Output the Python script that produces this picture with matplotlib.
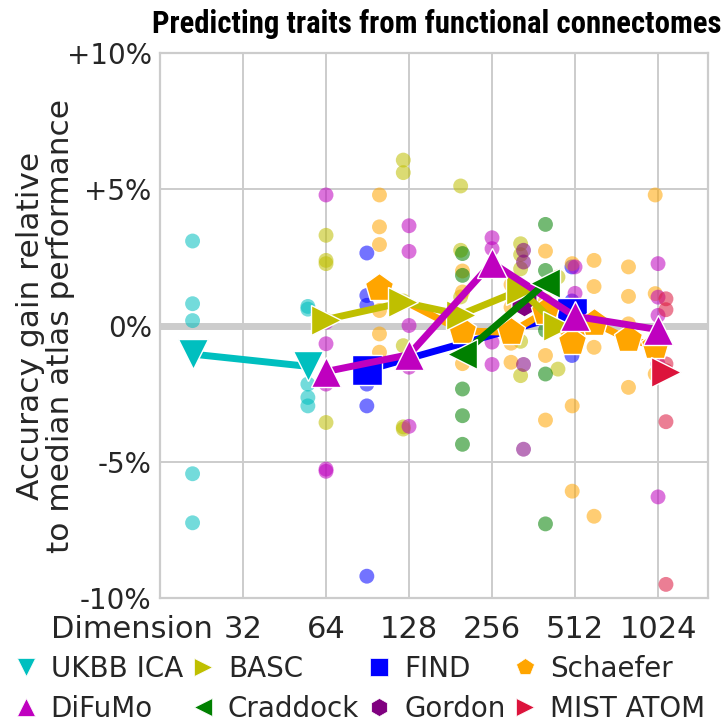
import matplotlib
matplotlib.use("Agg")
import matplotlib.pyplot as plt
from matplotlib.transforms import ScaledTranslation
from matplotlib.lines import Line2D
from matplotlib import font_manager as fm

# ---------------- data ----------------
atlas_names = ["UKBB ICA", "BASC", "FIND", "Schaefer", "DiFuMo", "Craddock", "Gordon", "MIST ATOM"]
atlas_colors = ["#00bfbf", "#bfbf00", "#0000ff", "#ffa500", "#bf00bf", "#008000", "#800080", "#dc143c"]
atlas_markers = ["v", ">", "s", "p", "^", "<", "h", ">"]

ukbb_dims = [21, 55]
ukbb_mean = [-1.05, -1.5]
ukbb_pts = [[3.1, 0.8, 0.18, -5.44, -7.24],
            [0.7, 0.6, -2.15, -2.64, -2.95]]

basc_dims = [64, 122, 197, 325, 444]
basc_mean = [0.22, 0.85, 0.4, 1.3, 0.0]
basc_pts = [[3.31, 2.39, 2.27, 0.2, -3.56],
            [6.07, 5.61, 0.9, -0.74, -3.72, -3.8],
            [5.12, 2.76, 1.05, -0.3],
            [3.0, 2.6, 2.08, -0.58, -1.84],
            [1.78, 0.3, -1.6]]

find_dims = [90, 499]
find_mean = [-1.64, 0.47]
find_pts = [[2.66, 1.1, 0.74, -2.15, -2.95, -9.2],
            [2.15, 0.9, -1.1]]

schaefer_dims = [100, 200, 300, 400, 500, 600, 800, 1000]
schaefer_mean = [1.36, -0.2, -0.25, 0.5, -0.6, 0.1, -0.5, -0.75]
schaefer_pts = [[4.79, 3.62, 2.97, 0.55, -0.31, -0.98],
                [2.0, 1.23, -0.3, -1.4],
                [1.5, 0.67, -0.65, -1.35],
                [2.73, 0.9, -1.1, -3.47],
                [2.27, 0.0, -2.95, -6.08],
                [2.39, 1.43, -0.8, -7.0],
                [2.15, 1.07, 0.06, -2.27],
                [4.79, 1.17, -1.78]]

difumo_dims = [64, 128, 256, 512, 1024]
difumo_mean = [-1.69, -1.07, 2.3, 0.34, -0.15]
difumo_pts = [[4.79, 0.12, -0.67, -2.15, -5.27, -5.35],
              [3.66, 2.72, 0.0, -1.53, -3.7],
              [3.22, 2.82, -0.61, -1.43],
              [2.15, 1.18, 0.3],
              [2.27, 1.04, 0.37, -1.41, -6.29]]

craddock_dims = [200, 400]
craddock_mean = [-1.05, 1.55]
craddock_pts = [[2.64, 1.84, -2.33, -3.31, -4.36],
                [3.71, 2.02, -0.18, -1.78, -7.28]]

gordon_dims = [333]
gordon_mean = [0.86]
gordon_pts = [[2.76, 2.33, -1.43, -4.54]]

mist_dims = [1094]
mist_mean = [-1.72]
mist_pts = [[0.98, 0.58, -1.41, -1.66, -3.53, -9.5]]

all_dims = [ukbb_dims, basc_dims, find_dims, schaefer_dims, difumo_dims, craddock_dims, gordon_dims, mist_dims]
all_means = [ukbb_mean, basc_mean, find_mean, schaefer_mean, difumo_mean, craddock_mean, gordon_mean, mist_mean]
all_pts = [ukbb_pts, basc_pts, find_pts, schaefer_pts, difumo_pts, craddock_pts, gordon_pts, mist_pts]
mean_zorder = [6, 7, 4, 5, 8, 9, 3, 10]

xtick_vals = [32, 64, 128, 256, 512, 1024]
xtick_labels = ["32", "64", "128", "256", "512", "1024"]
ytick_vals = [-10, -5, 0, 5, 10]
ytick_labels = ["-10%", "-5%", "0%", "+5%", "+10%"]
title_text = "Predicting traits from functional connectomes"

# ---------------- figure ----------------
plt.rcParams["font.family"] = ["DejaVu Sans"]
fig = plt.figure(figsize=(7.26, 7.26), dpi=100)
ax = fig.add_axes([0.2204, 0.1763, 0.7548, 0.7507])
txt_c = "#262626"
grid_c = "#cccccc"

ax.set_xscale("log", base=2)
ax.set_xlim(16, 1554)
ax.set_ylim(-10, 10)
ax.set_xticks(xtick_vals)
ax.set_xticklabels(xtick_labels)
ax.minorticks_off()
ax.set_yticks(ytick_vals)
ax.set_yticklabels(ytick_labels)
ax.tick_params(axis="both", length=0, colors=txt_c)
xpad = 12
ax.tick_params(axis="x", labelsize=22, pad=xpad)
ax.tick_params(axis="y", labelsize=20, pad=6)
ax.grid(True, color=grid_c, lw=1.4, zorder=0)
ax.set_axisbelow(True)
for sp in ax.spines.values():
    sp.set_color(grid_c)
    sp.set_linewidth(1.6)
ax.axhline(0, color=grid_c, lw=5, zorder=1)

for name, col, mk, dims, means, pts, z in zip(atlas_names, atlas_colors, atlas_markers,
                                               all_dims, all_means, all_pts, mean_zorder):
    for d, vals in zip(dims, pts):
        ax.scatter([d] * len(vals), vals, s=115, color=col, alpha=0.55,
                   edgecolors="none", zorder=2)
    ax.plot(dims, means, color=col, lw=5, marker=mk, ms=21,
            mec="white", mew=1.0, zorder=z, solid_capstyle="round")

ax.set_ylabel("Accuracy gain relative\nto median atlas performance", fontsize=22.5,
              color=txt_c, linespacing=1.05)
ax.yaxis.set_label_coords(-0.155, 0.5)

# "Dimension" word next to the tick labels
off = ScaledTranslation(0, -xpad / 72, fig.dpi_scale_trans)
ax.text(0.0967, 0, "Dimension", transform=ax.transAxes + off, ha="right", va="top",
        fontsize=22, color=txt_c)

# title in a narrow face if one is installed
names = {f.name for f in fm.fontManager.ttflist}
cands = ["Liberation Sans Narrow", "Roboto Condensed", "DejaVu Sans Condensed",
         "Open Sans Condensed", "Noto Sans Condensed", "Arial Narrow"]
tfam = next((c for c in cands if c in names), None)
if tfam is None:
    cond = [f.name for f in fm.fontManager.ttflist
            if str(f.stretch) in ("condensed", "semi-condensed", "extra-condensed")]
    tfam = cond[0] if cond else "DejaVu Sans"
title = fig.text(437 / 726, 1 - 33 / 726, title_text, ha="center", va="baseline",
                 family=tfam, fontweight="bold", fontsize=19, color="black")
fig.canvas.draw()
w = title.get_window_extent().width
title.set_fontsize(19 * 569.0 / w)

handles = [Line2D([], [], ls="none", marker=m, color=c, ms=13, mec="white", mew=0.5)
           for m, c in zip(atlas_markers, atlas_colors)]
order = [0, 4, 1, 5, 2, 6, 3, 7]
fig.legend([handles[i] for i in order], [atlas_names[i] for i in order],
           loc="upper left", bbox_to_anchor=(0.016, 0.0975), ncol=4, frameon=False,
           fontsize=20, handlelength=1.0, handletextpad=0.4, columnspacing=0.22,
           labelspacing=0.42, borderaxespad=0, borderpad=0, labelcolor=txt_c)

fig.savefig("out.png", dpi=100)
